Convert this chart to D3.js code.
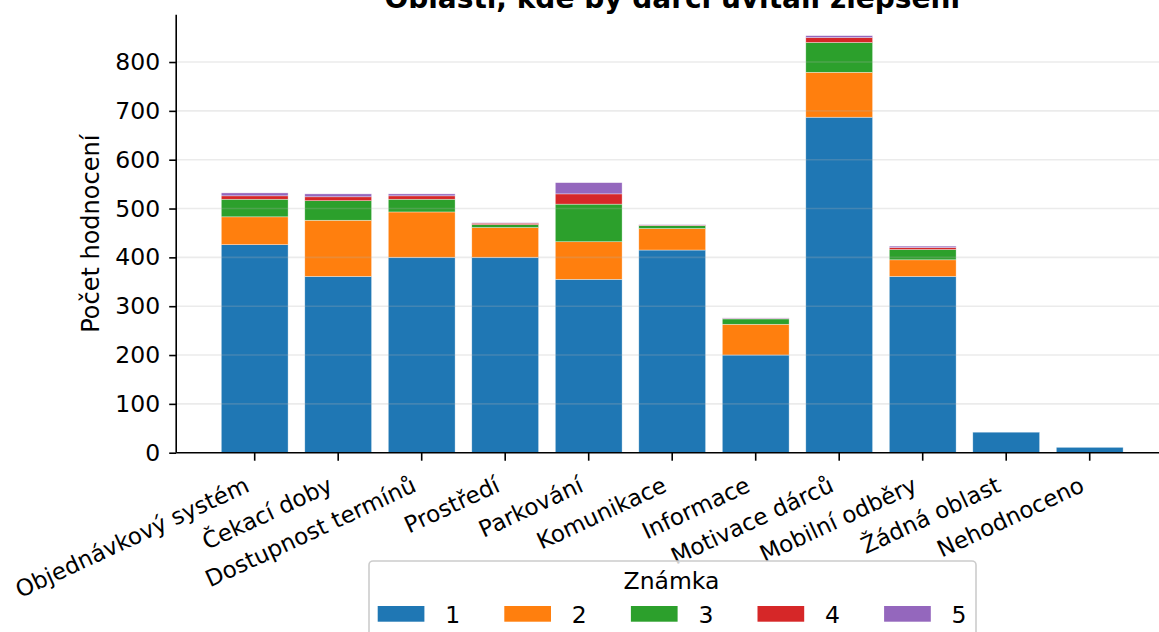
<!DOCTYPE html>
<html>
<head>
<meta charset="utf-8">
<script src="https://cdn.jsdelivr.net/npm/d3@7"></script>
<style>
  html, body { margin: 0; padding: 0; background: #fff; }
  svg { display: block; font-family: "DejaVu Sans", sans-serif; }
</style>
</head>
<body>
<svg id="chart" width="1159" height="632"></svg>
<script>
// ---- Data ----
const categories = ["Objednávkový systém", "Čekací doby", "Dostupnost termínů", "Prostředí", "Parkování",
  "Komunikace", "Informace", "Motivace dárců", "Mobilní odběry", "Žádná oblast", "Nehodnoceno"];
const grades = ["1", "2", "3", "4", "5"];
const grade1 = [426, 361, 400, 400, 355, 415, 200, 687, 361, 42, 11];
const grade2 = [57, 115, 93, 61, 77, 44, 63, 92, 34, 0, 0];
const grade3 = [36, 40, 26, 6, 77, 6, 11, 61, 21, 0, 0];
const grade4 = [7, 8, 7, 3, 21, 1, 1, 10, 4, 0, 0];
const grade5 = [6, 6, 4, 1, 23, 1, 1, 4, 3, 0, 0];
const yTicks = [0, 100, 200, 300, 400, 500, 600, 700, 800];
const colors = ["#1f77b4", "#ff7f0e", "#2ca02c", "#d62728", "#9467bd"];
const titleText = "Oblasti, kde by dárci uvítali zlepšení";
const yLabelText = "Počet hodnocení";
const legendTitle = "Známka";

(function () {
const FS = 23.5;
const seriesValues = [grade1, grade2, grade3, grade4, grade5];
const table = categories.map((c, i) => {
  const row = { category: c };
  grades.forEach((g, k) => row[g] = seriesValues[k][i]);
  return row;
});

// ---- Layout ----
const svg = d3.select("#chart");
const pLeft = 176.2, pRight = 1168.2, pTop = 14.8, pBottom = 452.7;

const x = d3.scaleBand().domain(categories).range([pLeft, pRight])
  .paddingInner(0.2).paddingOuter(0.54);
const totals = table.map(d => grades.reduce((s, g) => s + d[g], 0));
const y = d3.scaleLinear().domain([0, d3.max(totals) * 1.05]).range([pBottom, pTop]);
const color = d3.scaleOrdinal().domain(grades).range(colors);

const stacked = d3.stack().keys(grades)(table);

// Bars
svg.append("g").selectAll("g.layer").data(stacked).join("g")
  .attr("class", "layer")
  .attr("fill", d => color(d.key))
  .selectAll("rect").data(d => d).join("rect")
  .attr("x", d => x(d.data.category))
  .attr("width", x.bandwidth())
  .attr("y", d => y(d[1]))
  .attr("height", d => Math.max(0, y(d[0]) - y(d[1])))
  .attr("stroke", "#ffffff")
  .attr("stroke-opacity", 0.6)
  .attr("stroke-width", 0.6);

// Grid (drawn above with low alpha)
svg.append("g").selectAll("line").data(yTicks.filter(t => t > 0)).join("line")
  .attr("x1", pLeft).attr("x2", 1159)
  .attr("y1", d => y(d)).attr("y2", d => y(d))
  .attr("stroke", "#b0b0b0").attr("stroke-opacity", 0.25).attr("stroke-width", 1.6);

// Y axis
const yAxis = d3.axisLeft(y).tickValues(yTicks).tickSize(7).tickPadding(9);
const gy = svg.append("g").attr("transform", `translate(${pLeft},0)`).call(yAxis);
gy.select(".domain").remove();
gy.selectAll(".tick line").attr("stroke", "#000").attr("stroke-width", 1.6);
gy.selectAll(".tick text").attr("font-size", FS).attr("fill", "#000")
  .attr("font-family", "DejaVu Sans");
svg.append("line").attr("x1", pLeft).attr("x2", pLeft).attr("y1", pTop).attr("y2", pBottom)
  .attr("stroke", "#000").attr("stroke-width", 1.6);

// X axis
const xAxis = d3.axisBottom(x).tickSize(8).tickSizeOuter(0);
const gx = svg.append("g").attr("transform", `translate(0,${pBottom})`).call(xAxis);
gx.select(".domain").remove();
gx.selectAll(".tick line").attr("stroke", "#000").attr("stroke-width", 1.6);
gx.selectAll(".tick text")
  .attr("font-size", 23).attr("fill", "#000").attr("font-family", "DejaVu Sans")
  .attr("text-anchor", "end")
  .attr("x", 0).attr("y", 0).attr("dy", 0)
  .attr("transform", "translate(-4,38) rotate(-25)");
svg.append("line").attr("x1", pLeft).attr("x2", 1159).attr("y1", pBottom).attr("y2", pBottom)
  .attr("stroke", "#000").attr("stroke-width", 1.6);

// Y label
svg.append("text")
  .attr("transform", `translate(91,${(pTop + pBottom) / 2}) rotate(-90)`)
  .attr("text-anchor", "middle").attr("dy", "0.35em")
  .attr("font-size", 24).attr("fill", "#000")
  .text(yLabelText);

// Title
svg.append("text")
  .attr("x", (pLeft + pRight) / 2).attr("y", 7.5)
  .attr("text-anchor", "middle")
  .attr("font-size", 28).attr("font-weight", "bold").attr("fill", "#000")
  .text(titleText);

// Legend
const legX = 369, legY = 561, legW = 607;
const lg = svg.append("g");
lg.append("rect").attr("x", legX).attr("y", legY).attr("width", legW).attr("height", 100)
  .attr("rx", 4).attr("fill", "#fff").attr("fill-opacity", 0.8)
  .attr("stroke", "#cccccc").attr("stroke-width", 1.6);
lg.append("text").attr("x", legX + legW / 2 - 1).attr("y", 588.5)
  .attr("text-anchor", "middle").attr("font-size", FS).attr("fill", "#000")
  .text(legendTitle);
const lx = d3.scalePoint().domain(grades).range([377.7, 377.7 + 126.6 * 4]);
const items = lg.selectAll("g.item").data(grades).join("g").attr("class", "item")
  .attr("transform", d => `translate(${lx(d)},0)`);
items.append("rect").attr("x", 0).attr("y", 606).attr("width", 46.7).attr("height", 15.7)
  .attr("fill", d => color(d));
items.append("text").attr("x", 67.5).attr("y", 622.5)
  .attr("font-size", FS).attr("fill", "#000").text(d => d);
})();
</script>
</body>
</html>
